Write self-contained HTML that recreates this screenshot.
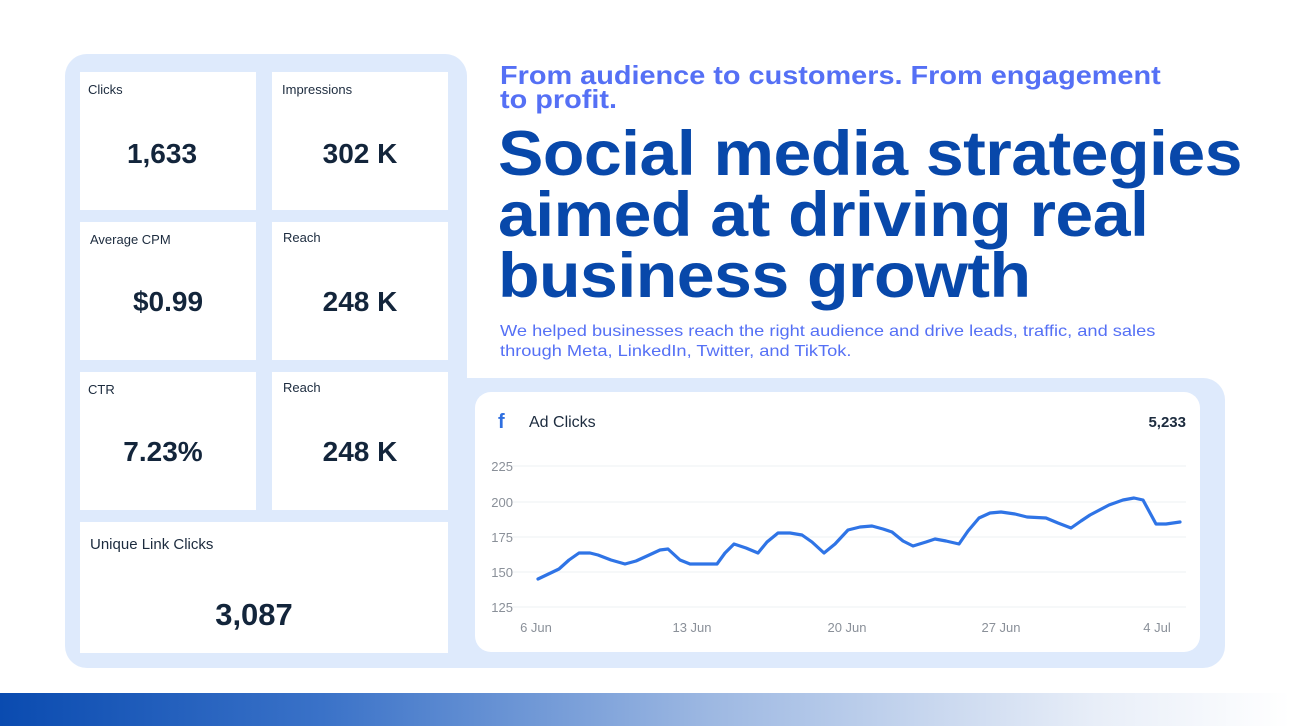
<!DOCTYPE html>
<html><head><meta charset="utf-8"><style>
*{margin:0;padding:0;box-sizing:border-box}
body{width:1290px;height:726px;background:#fff;position:relative;overflow:hidden;font-family:"Liberation Sans",sans-serif}
.abs{position:absolute}
.panel{background:#deeafc}
.card{position:absolute;background:#fff}
.card .l{position:absolute;left:8px;top:10px;font-size:13px;color:#1c2b3e}
.card .v{position:absolute;left:0;right:0;text-align:center;font-size:28px;font-weight:bold;color:#13253b}
.t{white-space:nowrap;transform-origin:0 0}
</style></head><body>
<div class="abs panel" style="left:65px;top:54px;width:402px;height:614px;border-radius:22px 22px 0 22px"></div>
<div class="abs panel" style="left:440px;top:378px;width:785px;height:290px;border-radius:0 22px 22px 0"></div>
<div class="abs panel" style="left:440px;top:378px;width:60px;height:290px"></div>

<div class="card" style="left:80px;top:72px;width:176px;height:138px"><div class="l">Clicks</div><div class="v" style="top:66px;left:-12px">1,633</div></div>
<div class="card" style="left:272px;top:72px;width:176px;height:138px"><div class="l" style="left:10px">Impressions</div><div class="v" style="top:66px">302 K</div></div>
<div class="card" style="left:80px;top:222px;width:176px;height:138px"><div class="l" style="left:10px;top:10px">Average CPM</div><div class="v" style="top:64px">$0.99</div></div>
<div class="card" style="left:272px;top:222px;width:176px;height:138px"><div class="l" style="left:11px;top:8px">Reach</div><div class="v" style="top:64px">248 K</div></div>
<div class="card" style="left:80px;top:372px;width:176px;height:138px"><div class="l">CTR</div><div class="v" style="top:64px;left:-10px">7.23%</div></div>
<div class="card" style="left:272px;top:372px;width:176px;height:138px"><div class="l" style="left:11px;top:8px">Reach</div><div class="v" style="top:64px">248 K</div></div>
<div class="card" style="left:80px;top:522px;width:368px;height:131px"><div class="l" style="left:10px;top:14px;font-size:15px">Unique Link Clicks</div><div class="v" style="top:75px;font-size:31px;left:-20px">3,087</div></div>

<div class="abs t" style="left:500px;top:63px;font-size:26px;line-height:24px;font-weight:bold;color:#5570f5;transform:scaleX(1.11)">From audience to customers. From engagement<br>to profit.</div>
<div class="abs t" style="left:498px;top:124px;font-size:63px;line-height:61px;font-weight:bold;color:#0848aa;letter-spacing:-0.5px;transform:scaleX(1.08)">Social media strategies<br>aimed at driving real<br>business growth</div>
<div class="abs t" style="left:500px;top:322px;font-size:16px;line-height:20px;color:#5570f5;transform:scaleX(1.14)">We helped businesses reach the right audience and drive leads, traffic, and sales<br>through Meta, LinkedIn, Twitter, and TikTok.</div>

<div class="abs" style="left:475px;top:392px;width:725px;height:260px;background:#fff;border-radius:16px"></div>
<svg class="abs" style="left:0;top:0" width="1290" height="726">
<text x="498" y="428" font-family="Liberation Sans" font-weight="bold" font-size="20" fill="#2f6fe0">f</text>
<text x="529" y="427" font-family="Liberation Sans" font-size="16" fill="#1c2b3e">Ad Clicks</text>
<text x="1186" y="427" text-anchor="end" font-family="Liberation Sans" font-weight="bold" font-size="15" fill="#1c2b3e">5,233</text>
<g stroke="#eef0f3" stroke-width="1">
<line x1="511" y1="466" x2="1186" y2="466"/><line x1="511" y1="502" x2="1186" y2="502"/>
<line x1="511" y1="537" x2="1186" y2="537"/><line x1="511" y1="572" x2="1186" y2="572"/>
<line x1="511" y1="607" x2="1186" y2="607"/></g>
<g font-family="Liberation Sans" font-size="13" fill="#8a9099" text-anchor="end">
<text x="513" y="471">225</text><text x="513" y="507">200</text><text x="513" y="542">175</text><text x="513" y="577">150</text><text x="513" y="612">125</text></g>
<g font-family="Liberation Sans" font-size="13" fill="#8a9099" text-anchor="middle">
<text x="536" y="632">6 Jun</text><text x="692" y="632">13 Jun</text><text x="847" y="632">20 Jun</text><text x="1001" y="632">27 Jun</text><text x="1157" y="632">4 Jul</text></g>
<polyline fill="none" stroke="#2f74e6" stroke-width="3.2" stroke-linejoin="round" stroke-linecap="round"
points="538,579 559,569 569,560 579,553 590,553 598,555 611,560 625,564 636,561 647,556 660,550 668,549 680,560 690,564 705,564 717,564 725,553 734,544 746,548 758,553 767,542 778,533 790,533 802,535 812,542 824,553 835,544 848,530 860,527 872,526 883,529 892,532 903,541 913,546 926,542 935,539 946,541 959,544 968,531 979,518 990,513 1001,512 1015,514 1027,517 1046,518 1058,523 1071,528 1081,521 1090,515 1109,505 1123,500 1134,498 1143,500 1156,524 1166,524 1180,522"/>
</svg>

<div class="abs" style="left:0;top:693px;width:1290px;height:33px;background:linear-gradient(90deg,#0a4bb0 0%,#3a72c8 25%,#9db8e2 55%,#e8eef8 85%,#fff 100%)"></div>
</body></html>
